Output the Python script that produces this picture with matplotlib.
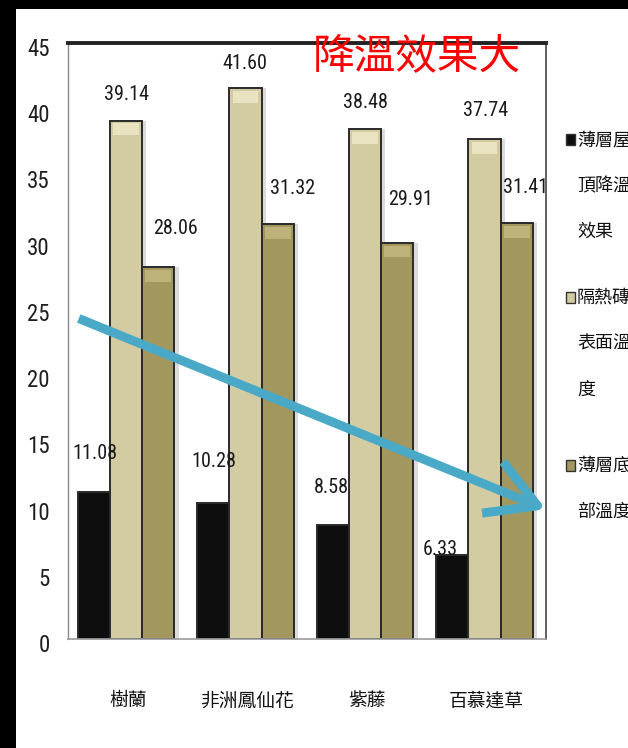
import matplotlib
matplotlib.use("Agg")
import matplotlib.pyplot as plt
from matplotlib.patches import Rectangle
from matplotlib.transforms import ScaledTranslation
import numpy as np

categories = ["樹蘭", "非洲鳳仙花", "紫藤", "百慕達草"]
series_names = ["薄層屋頂降溫效果", "隔熱磚表面溫度", "薄層底部溫度"]
roof_cooling = [11.08, 10.28, 8.58, 6.33]
brick_surface = [39.14, 41.60, 38.48, 37.74]
layer_bottom = [28.06, 31.32, 29.91, 31.41]
yticks = [0, 5, 10, 15, 20, 25, 30, 35, 40, 45]
title_text = "降溫效果大"

colors = ["#0e0e0e", "#d3cca3", "#a1975f"]
# label offsets (pixels, x/y) from bar-top centre, as placed in the original
label_offsets = [
    [(1, 39), (1, 41), (-1, 38), (-12, 6)],
    [(1, 26), (-1, 25), (0, 27), (1, 29)],
    [(17, 39), (15, 36), (13, 43), (9, 35)],
]

CJK = ["Noto Sans CJK TC", "DejaVu Sans"]
NUM = ["Roboto Condensed", "DejaVu Sans"]

W, H = 628, 748
fig = plt.figure(figsize=(W / 100, H / 100), dpi=100)
fig.patch.set_facecolor("white")

ax = fig.add_axes([68 / W, (H - 639) / H, 478 / W, 596 / H])
ax.set_xlim(-0.5, len(categories) - 0.5)
ax.set_ylim(0, 45)

x = np.arange(len(categories))
bw = 0.27
data = [roof_cooling, brick_surface, layer_bottom]
for i, (vals, col) in enumerate(zip(data, colors)):
    pos = x + (i - 1) * bw - 0.015
    # soft shadow to the right
    ax.bar(pos + 0.035, vals, bw, bottom=0, color="#888888", alpha=0.3,
           linewidth=0, zorder=1)
    ax.bar(pos, vals, bw, color=col, edgecolor="#2a2a2a", linewidth=1.4, zorder=2)
    if i > 0:
        # top highlight to mimic bevel
        hl = "#efeacb" if i == 1 else "#c4ba82"
        ax.bar(pos, [0.9] * len(vals), bw * 0.8, bottom=np.array(vals) - 1.1,
               color=hl, linewidth=0, zorder=3, alpha=0.8)
    for j, v in enumerate(vals):
        dx, dy = label_offsets[i][j]
        ax.annotate(f"{v:.2f}", (pos[j], v), xytext=(dx * 0.72, dy * 0.72),
                    textcoords="offset points", ha="center", va="center",
                    fontsize=14.5, family=NUM, color="#1a1a1a", zorder=5)

ax.set_yticks(yticks)
ax.set_yticklabels([str(t) for t in yticks], family=NUM, fontsize=16.5, color="#1f1f1f")
ax.tick_params(axis="y", length=0, pad=13)
off = ScaledTranslation(0, -4 / 100, fig.dpi_scale_trans)
for lab in ax.get_yticklabels():
    lab.set_transform(lab.get_transform() + off)
ax.set_xticks(x)
ax.set_xticklabels(categories, family=CJK, fontsize=13.5, color="#111111")
ax.tick_params(axis="x", length=0, pad=37)

ax.spines["top"].set_linewidth(2.8)
ax.spines["top"].set_color("#222222")
ax.spines["left"].set_color("#8a8a8a")
ax.spines["left"].set_linewidth(1.0)
ax.spines["right"].set_color("#444444")
ax.spines["right"].set_linewidth(1.2)
ax.spines["bottom"].set_color("#9a9a9a")
ax.spines["bottom"].set_linewidth(1.2)

# trend arrow
ax.annotate("", xy=(3.5, 9.8), xytext=(-0.41, 24.2),
            arrowprops=dict(arrowstyle="->,head_length=1.75,head_width=1.0",
                            color="#4aa9c6", lw=6.5, mutation_scale=20,
                            shrinkA=0, shrinkB=0, capstyle="butt"),
            annotation_clip=False, zorder=6)

fig.text(417 / W, 1 - 57 / H, title_text, color="#ff0000", fontsize=30,
         family=CJK, ha="center", va="center")

# legend drawn manually, lines wrapped at 3 characters as in the original
entry_tops = [140, 298, 466]
line_gap = 46
for k, (name, col) in enumerate(zip(series_names, colors)):
    y0 = entry_tops[k]
    fig.patches.append(Rectangle((566 / W, 1 - (y0 + 5) / H), 9 / W, 11 / H,
                                 transform=fig.transFigure, facecolor=col,
                                 edgecolor="#333333", linewidth=1.0))
    lines = [name[i:i + 3] for i in range(0, len(name), 3)]
    for li, ln in enumerate(lines):
        fig.text(577 / W, 1 - (y0 + li * line_gap) / H, ln, family=CJK,
                 fontsize=13, color="#111111", ha="left", va="center")

# black frame edges of the original screenshot
fig.patches.append(Rectangle((0, 0), 16 / W, 1, transform=fig.transFigure,
                             facecolor="black", edgecolor="none", zorder=10))
fig.patches.append(Rectangle((0, 1 - 9 / H), 1, 9 / H, transform=fig.transFigure,
                             facecolor="black", edgecolor="none", zorder=10))

fig.savefig("out.png", dpi=100)
